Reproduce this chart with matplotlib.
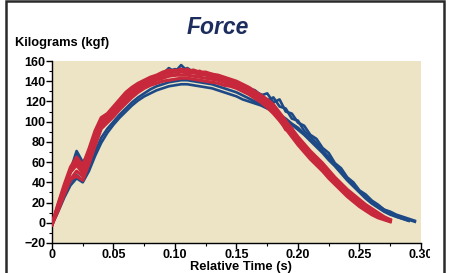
import matplotlib
matplotlib.use("Agg")
import matplotlib.pyplot as plt
from matplotlib.patches import Rectangle
from matplotlib.transforms import Bbox
import numpy as np

# time grid (s), every 5 ms
T_STEP = 0.005
time_s = np.arange(0, 61) * T_STEP

red_1 = [-2, 18, 36, 52, 62, 52, 70, 88, 102, 106, 112, 120, 126, 132, 136, 139, 142, 144, 147, 149,
         150, 151, 150, 149, 148, 147, 146, 144, 142, 140, 138, 135, 132, 128, 124, 120, 114, 107, 99, 91,
         83, 76, 69, 63, 57, 50, 43, 37, 31, 26, 21, 16, 12, 8, 5, 3]
red_2 = [-1, 13, 29, 43, 46, 42, 58, 76, 93, 99, 105, 112, 118, 124, 129, 133, 136, 138, 140, 141,
         142, 143, 143, 142, 141, 140, 139, 138, 136, 135, 133, 130, 127, 123, 119, 114, 108, 101, 93, 85,
         77, 70, 63, 57, 51, 44, 38, 32, 26, 21, 16, 12, 8, 5, 3, 1]
red_3 = [-2, 16, 34, 50, 57, 49, 67, 85, 100, 104, 110, 117, 124, 130, 135, 138, 141, 143, 146, 148,
         146, 150, 147, 149, 146, 147, 144, 145, 141, 140, 137, 135, 130, 128, 122, 119, 112, 106, 97, 90,
         81, 75, 67, 62, 55, 49, 41, 36, 29, 25, 19, 15, 10, 7, 4, 2]
red_4 = [-2, 17, 35, 51, 60, 54, 69, 87, 101, 105, 111, 118, 125, 131, 135, 138, 141, 144, 146, 149,
         151, 149, 152, 148, 150, 146, 147, 143, 143, 139, 139, 134, 133, 126, 125, 117, 115, 104, 92, 93,
         81, 77, 68, 64, 56, 51, 42, 38, 30, 26, 20, 16, 11, 8, 4, 2]
red_5 = [-2, 12, 28, 43, 51, 46, 61, 79, 96, 102, 108, 115, 121, 127, 132, 135, 138, 141, 143, 145,
         146, 146, 146, 145, 144, 143, 142, 141, 139, 137, 135, 133, 130, 126, 122, 117, 111, 104, 97, 89,
         81, 73, 67, 60, 54, 47, 41, 35, 29, 24, 19, 14, 10, 6, 4, 2]
red_6 = [-1, 19, 38, 55, 65, 57, 73, 91, 104, 108, 115, 122, 129, 134, 138, 141, 144, 146, 149, 151,
         150, 152, 150, 151, 149, 149, 147, 146, 144, 142, 140, 137, 134, 130, 126, 122, 117, 109, 101, 93,
         85, 78, 71, 65, 59, 52, 45, 39, 33, 28, 23, 18, 14, 10, 6, 3]

blue_1 = [-2, 15, 32, 52, 71, 60, 68, 85, 99, 104, 110, 117, 123, 129, 134, 138, 141, 144, 147, 153,
          149, 156, 150, 151, 148, 147, 145, 144, 142, 140, 138, 136, 133, 131, 126, 128, 119, 122, 110, 108,
          99, 96, 87, 83, 74, 69, 59, 54, 45, 40, 32, 28, 22, 18, 13, 11, 8, 6, 4, 2]
blue_2 = [-2, 14, 31, 50, 69, 58, 66, 83, 97, 103, 109, 116, 122, 128, 133, 137, 140, 143, 146, 150,
          152, 150, 153, 149, 148, 146, 145, 143, 141, 139, 137, 135, 132, 129, 127, 121, 124, 115, 113, 103,
          101, 91, 85, 79, 71, 65, 57, 51, 44, 38, 31, 27, 21, 17, 13, 10, 7, 5, 3, 1]
blue_3 = [-2, 11, 25, 37, 44, 40, 51, 66, 79, 89, 97, 104, 110, 116, 121, 125, 128, 131, 133, 135,
          136, 137, 137, 136, 135, 134, 133, 131, 129, 127, 125, 122, 120, 118, 116, 113, 110, 106, 102, 97,
          92, 87, 81, 75, 69, 62, 56, 49, 42, 36, 30, 24, 19, 15, 11, 8, 6, 4, 2]
blue_4 = [-2, 13, 28, 41, 47, 42, 55, 70, 84, 93, 100, 107, 113, 119, 124, 128, 132, 135, 137, 139,
          140, 141, 141, 140, 139, 138, 137, 135, 133, 131, 129, 126, 123, 120, 118, 114, 111, 107, 103, 98,
          94, 88, 82, 76, 70, 64, 57, 50, 43, 37, 31, 25, 20, 16, 12, 9, 6, 4, 2]

x_ticks = [0, 0.05, 0.10, 0.15, 0.20, 0.25, 0.30]
x_labels = ["0", "0.05", "0.10", "0.15", "0.20", "0.25", "0.30"]
y_ticks = [-20, 0, 20, 40, 60, 80, 100, 120, 140, 160]

RED = "#c8283c"
BLUE = "#1d4a86"
NAVY = "#1c2d5e"
PAPER = "#ede4c6"

W, H = 452, 273
plt.rcParams["font.family"] = ["Liberation Sans", "DejaVu Sans"]
plt.rcParams["font.weight"] = "bold"

fig = plt.figure(figsize=(W / 100, H / 100), dpi=100)
fig.patch.set_facecolor("white")
ax = fig.add_axes([52 / W, 1 - 243 / H, (421 - 52) / W, (243 - 61) / H])
ax.set_facecolor(PAPER)

for s in (blue_3, blue_4, blue_1, blue_2):
    ax.plot(time_s[:len(s)], s, color=BLUE, lw=1.9, zorder=2)
for s in (red_2, red_5, red_3, red_1, red_4, red_6):
    ax.plot(time_s[:len(s)], s, color=RED, lw=2.3, zorder=3)

ax.set_xlim(0, 0.30)
ax.set_ylim(-20, 160)
ax.set_xticks(x_ticks)
ax.set_xticklabels(x_labels)
ax.set_xticks(np.arange(0.025, 0.30, 0.05), minor=True)
ax.set_yticks(y_ticks)
ax.set_yticks(np.arange(-10, 160, 20), minor=True)
ax.tick_params(labelsize=9, length=4, width=1, pad=0.5, direction="out")
ax.tick_params(which="minor", length=2, width=0.8)
for sp in ("top", "right"):
    ax.spines[sp].set_visible(False)
for sp in ("left", "bottom"):
    ax.spines[sp].set_linewidth(1.0)

# last x label is cut off in the original
fig.canvas.draw()
last = ax.get_xticklabels()[-1]
last.set_clip_box(Bbox([[0, 0], [430, H]]))
last.set_clip_on(True)

fig.text(218 / W, 1 - 28 / H, "Force", fontsize=16.5, fontstyle="italic",
         fontweight="bold", color=NAVY, ha="center", va="center")
fig.text(15 / W, 1 - 43 / H, "Kilograms (kgf)", fontsize=9.3, ha="left", va="center")
fig.text(241 / W, 1 - 267 / H, "Relative Time (s)", fontsize=9.3, ha="center", va="center")

# frame around the whole panel
fig.patches.append(Rectangle((6 / W, -0.05), (444 - 6) / W, 1.05 - 1.2 / H,
                             transform=fig.transFigure, fill=False,
                             edgecolor="#2a2a2a", lw=1.8))

fig.savefig("out.png", dpi=100)
